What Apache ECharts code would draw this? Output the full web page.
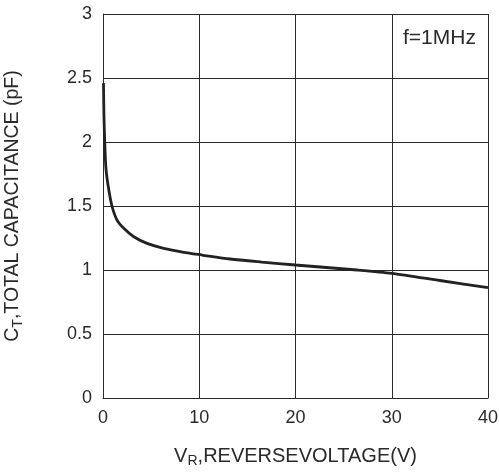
<!DOCTYPE html>
<html>
<head>
<meta charset="utf-8">
<script src="https://cdn.jsdelivr.net/npm/echarts@6/dist/echarts.min.js"></script>
<style>
  html, body { margin: 0; padding: 0; background: #fff; }
  #chart { width: 499px; height: 472px; }
</style>
</head>
<body>
<div id="chart"></div>
<script>
// reverse voltage (V) and total capacitance (pF)
var voltage = [0.05, 0.1, 0.18, 0.3, 0.55, 0.93, 1.46, 2.16, 3.2, 4.58, 6.3, 8.4, 10.3, 13.2, 16.5, 20, 26.4, 30, 35, 40];
var capacitance = [2.46, 2.2, 2.0, 1.8, 1.65, 1.5, 1.39, 1.326, 1.26, 1.208, 1.169, 1.138, 1.117, 1.086, 1.062, 1.039, 1.0, 0.974, 0.918, 0.862];
var xTicks = [0, 10, 20, 30, 40];
var yTicks = [0, 0.5, 1, 1.5, 2, 2.5, 3];

var points = voltage.map(function (v, i) { return [v, capacitance[i]]; });

var chart = echarts.init(document.getElementById('chart'));

var lineCol = '#2b2b2b';
var textCol = '#2a2a2a';
var font = 'Liberation Sans, Arial, sans-serif';

var option = {
  animation: false,
  grid: {
    left: 103,
    right: 11,
    top: 14,
    bottom: 74,
    containLabel: false,
    outerBoundsMode: 'none'
  },
  xAxis: {
    type: 'value',
    min: 0,
    max: 40,
    interval: 10,
    name: '{a|V}{s|R}{a|,REVERSEVOLTAGE(V)}',
    nameLocation: 'middle',
    nameGap: 46,
    nameTextStyle: {
      rich: {
        a: { fontSize: 20, fontFamily: font, color: textCol },
        s: { fontSize: 14, fontFamily: font, color: textCol, padding: [10, 0, 0, 0] }
      }
    },
    axisLine: { lineStyle: { color: lineCol, width: 1 } },
    axisTick: { show: false },
    splitLine: { lineStyle: { color: lineCol, width: 1 } },
    axisLabel: {
      fontSize: 18,
      fontFamily: font,
      color: textCol,
      margin: 11,
      formatter: function (v) { return xTicks.indexOf(v) >= 0 ? String(v) : ''; }
    }
  },
  yAxis: {
    type: 'value',
    min: 0,
    max: 3,
    interval: 0.5,
    name: '{a|C}{s|T}{a|,TOTAL CAPACITANCE (pF)}',
    nameLocation: 'middle',
    nameRotate: 90,
    nameGap: 78,
    nameTextStyle: {
      rich: {
        a: { fontSize: 19.5, fontFamily: font, color: textCol },
        s: { fontSize: 14, fontFamily: font, color: textCol, padding: [10, 0, 0, 0] }
      }
    },
    axisLine: { show: true, lineStyle: { color: lineCol, width: 1 } },
    axisTick: { show: false },
    splitLine: { lineStyle: { color: lineCol, width: 1 } },
    axisLabel: {
      fontSize: 18,
      fontFamily: font,
      color: textCol,
      margin: 11,
      formatter: function (v) { return yTicks.indexOf(v) >= 0 ? String(v) : ''; }
    }
  },
  graphic: [
    {
      type: 'text',
      left: 403,
      top: 28,
      style: {
        text: 'f=1MHz',
        fontSize: 21,
        fontFamily: font,
        fill: textCol
      }
    }
  ],
  series: [
    {
      type: 'line',
      data: points,
      smooth: 0.25,
      showSymbol: false,
      lineStyle: { color: '#222', width: 2.8 }
    }
  ]
};

chart.setOption(option);
window.addEventListener('resize', function () {
  chart.resize();
});
</script>
</body>
</html>
